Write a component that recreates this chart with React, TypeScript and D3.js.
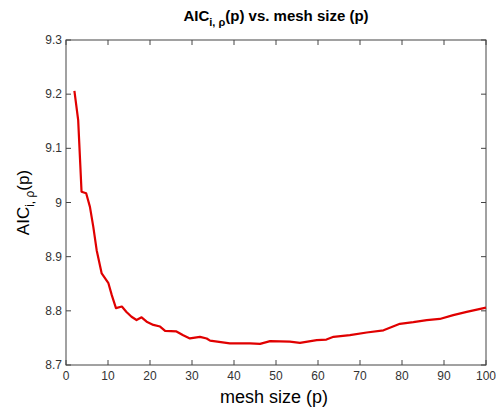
import React from "react";
import * as d3 from "d3";

const meshSize = [2, 2.9, 3.4, 3.7, 4.8, 5.7, 6.5, 7.3, 8.5, 10.1, 10.9, 11.9, 13.3, 14.4, 15.6, 16.8, 18, 19.2, 20.8, 22.4, 23.6, 26.3, 27.9, 29.5, 31.9, 33.5, 34.3, 39, 43.8, 46.2, 48.6, 53.3, 55.7, 59.7, 62, 63.7, 67.6, 71.6, 75.6, 79.5, 82.7, 85.9, 89, 92.2, 95.4, 100];
const aic = [9.206, 9.152, 9.07, 9.02, 9.017, 8.992, 8.955, 8.912, 8.869, 8.851, 8.829, 8.805, 8.808, 8.798, 8.789, 8.783, 8.788, 8.78, 8.774, 8.771, 8.763, 8.762, 8.755, 8.749, 8.752, 8.749, 8.745, 8.74, 8.74, 8.739, 8.744, 8.743, 8.741, 8.746, 8.747, 8.752, 8.755, 8.76, 8.764, 8.776, 8.779, 8.783, 8.785, 8.792, 8.798, 8.806];
const xTicks = [0, 10, 20, 30, 40, 50, 60, 70, 80, 90, 100];
const yTicks = [8.7, 8.8, 8.9, 9.0, 9.1, 9.2, 9.3];

const W = 496, H = 414;
const L = 66, R = 486, T = 40, B = 365;

export default function App() {
  const x = d3.scaleLinear().domain([0, 100]).range([L, R]);
  const y = d3.scaleLinear().domain([8.7, 9.3]).range([B, T]);
  const line = d3.line<number>().x((_, i) => x(meshSize[i])).y((d) => y(d));
  const font = "'Liberation Sans', Arial, sans-serif";
  const axisColor = "#444";
  const tl = 5;
  return (
    <svg width={W} height={H} style={{ position: "absolute", left: 0, top: 0, background: "#fff" }} fontFamily={font}>
      <rect x={0} y={0} width={W} height={H} fill="#fff" />
      <rect x={L} y={T} width={R - L} height={B - T} fill="#fff" stroke={axisColor} strokeWidth={1} />
      {xTicks.map((t) => (
        <g key={"x" + t}>
          <line x1={x(t)} x2={x(t)} y1={B} y2={B - tl} stroke={axisColor} />
          <line x1={x(t)} x2={x(t)} y1={T} y2={T + tl} stroke={axisColor} />
          <text x={x(t)} y={B + 15} textAnchor="middle" fontSize={12} fill="#333">{t}</text>
        </g>
      ))}
      {yTicks.map((t) => (
        <g key={"y" + t}>
          <line x1={L} x2={L + tl} y1={y(t)} y2={y(t)} stroke={axisColor} />
          <line x1={R} x2={R - tl} y1={y(t)} y2={y(t)} stroke={axisColor} />
          <text x={L - 4} y={y(t) + 4} textAnchor="end" fontSize={12} fill="#333">{d3.format("~g")(+t.toFixed(1))}</text>
        </g>
      ))}
      <path d={line(aic) || ""} fill="none" stroke="#e00000" strokeWidth={2.2} strokeLinejoin="round" />
      <text x={(L + R) / 2} y={21} textAnchor="middle" fontSize={15} fontWeight="bold" fill="#000">
        AIC<tspan fontSize={11} dy={5}>i, ρ</tspan><tspan dy={-5}>(p) vs. mesh size (p)</tspan>
      </text>
      <text x={(L + R) / 2 - 2} y={403} textAnchor="middle" fontSize={18} fill="#000">mesh size (p)</text>
      <text transform={`translate(29, ${(T + B) / 2}) rotate(-90)`} textAnchor="middle" fontSize={17} fill="#000">
        AIC<tspan fontSize={12} dy={5}>i, ρ</tspan><tspan dy={-5}>(p)</tspan>
      </text>
    </svg>
  );
}
